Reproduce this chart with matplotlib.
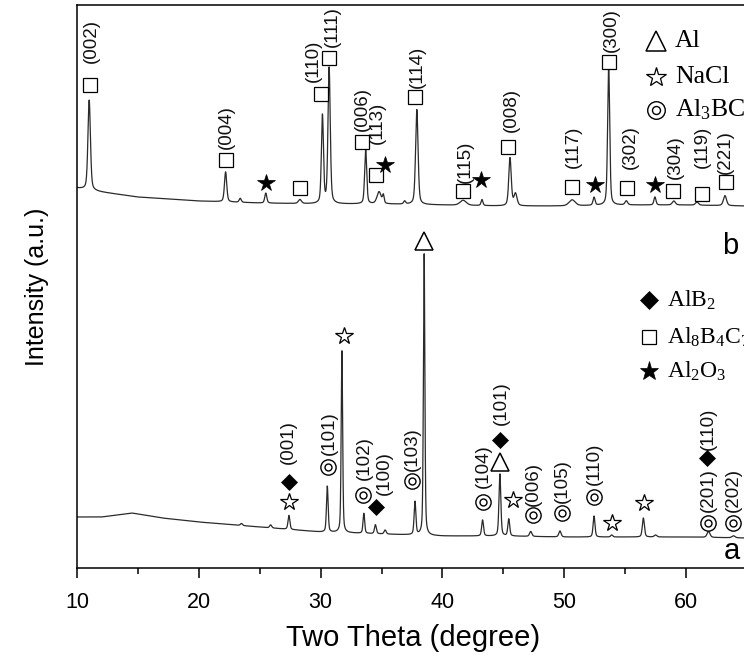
import numpy as np
import matplotlib
matplotlib.use("Agg")
import matplotlib.pyplot as plt

plt.rcParams['font.family'] = ['Liberation Sans', 'DejaVu Sans']
plt.rcParams['mathtext.fontset'] = 'custom'
plt.rcParams['mathtext.rm'] = 'Liberation Serif'

# ---- pattern a (bottom): baseline knots and peak list (2theta, height, fwhm)
base_a_tt = [10, 12, 14.5, 17, 20, 25, 30, 35, 40, 45, 50, 55, 60, 65, 70]
base_a_y = [51, 51, 55, 50, 46, 41, 36, 34, 32, 32, 31, 31, 31, 30, 30]
peaks_a_tt = [23.5, 25.9, 27.4, 30.55, 31.75, 33.55, 34.5, 35.3, 37.75, 38.5,
              43.3, 44.72, 45.45, 47.25, 49.65, 52.45, 53.9, 56.5, 57.5, 61.85, 63.9]
peaks_a_h = [2, 3, 14, 46, 182, 20, 9, 4, 33, 282,
             16, 62, 17, 5, 6, 21, 2, 19, 2, 6, 2]
peaks_a_w = [0.2, 0.2, 0.18, 0.16, 0.14, 0.16, 0.18, 0.2, 0.17, 0.14,
             0.18, 0.18, 0.18, 0.22, 0.22, 0.18, 0.2, 0.2, 0.25, 0.28, 0.3]

# ---- pattern b (top)
base_b_tt = [10, 12, 15, 20, 25, 30, 35, 40, 45, 50, 55, 60, 65, 70]
base_b_y = [380, 376, 371, 367, 365, 364, 364, 363, 362, 362, 363, 363, 362, 362]
peaks_b_tt = [11.0, 22.2, 23.4, 25.5, 28.3, 30.15, 30.7, 33.7, 34.8, 35.15, 36.9,
              37.9, 41.7, 43.25, 45.55, 46.0, 50.65, 52.45, 53.65, 55.1, 57.45,
              59.0, 60.9, 63.2]
peaks_b_h = [90, 30, 4, 10, 4, 88, 136, 54, 12, 8, 3,
             95, 5, 6, 48, 12, 6, 8, 140, 4, 8,
             4, 3, 10]
peaks_b_w = [0.24, 0.22, 0.2, 0.2, 0.3, 0.2, 0.22, 0.2, 0.4, 0.16, 0.2,
             0.24, 0.6, 0.18, 0.24, 0.3, 0.6, 0.2, 0.2, 0.25, 0.2,
             0.3, 0.3, 0.3]

# ---- phase markers: (2theta, level, phase)
marks_b = [(11.07, 483, 'B'), (22.23, 408, 'B'), (25.52, 385, 'O'), (28.31, 380, 'B'),
           (30.03, 474, 'B'), (30.69, 510, 'B'), (33.40, 426, 'B'), (34.55, 393, 'B'),
           (35.29, 403, 'O'), (37.75, 471, 'B'), (41.69, 377, 'B'), (43.17, 388, 'O'),
           (45.39, 421, 'B'), (50.64, 381, 'B'), (52.53, 383, 'O'), (53.68, 506, 'B'),
           (55.16, 380, 'B'), (57.45, 383, 'O'), (58.93, 377, 'B'), (61.31, 374, 'B'),
           (63.28, 386, 'B')]
labels_b = [(11.15, 527, '(002)'), (22.23, 441, '(004)'), (29.38, 507, '(110)'),
            (30.94, 541, '(111)'), (33.40, 459, '(006)'), (34.63, 445, '(113)'),
            (37.91, 501, '(114)'), (41.86, 406, '(115)'), (45.63, 458, '(008)'),
            (50.72, 421, '(117)'), (53.84, 538, '(300)'), (55.40, 421, '(302)'),
            (59.10, 411, '(304)'), (61.31, 421, '(119)'), (63.20, 416, '(221)')]

marks_a = [(38.53, 327, 'Al'), (31.9, 232, 'N'), (27.41, 86, 'D'), (27.41, 66, 'N'),
           (30.61, 101, 'C'), (33.48, 73, 'C'), (34.55, 61, 'D'), (37.5, 87, 'C'),
           (43.33, 66, 'C'), (44.73, 106, 'Al'), (44.73, 128, 'D'), (45.8, 68, 'N'),
           (47.44, 53, 'C'), (49.82, 55, 'C'), (52.45, 71, 'C'), (53.92, 45, 'N'),
           (56.55, 65, 'N'), (61.81, 45, 'C'), (61.72, 110, 'D'), (63.86, 45, 'C')]
labels_a = [(27.32, 126, '(001)'), (30.69, 135, '(101)'), (33.56, 110, '(102)'),
            (35.2, 95, '(100)'), (37.5, 119, '(103)'), (43.33, 102, '(104)'),
            (44.81, 165, '(101)'), (47.44, 84, '(006)'), (49.82, 87, '(105)'),
            (52.45, 104, '(110)'), (61.81, 78, '(201)'), (61.81, 139, '(110)'),
            (63.86, 78, '(202)')]

legend_top = [('Al', 'Al'), ('N', 'NaCl'), ('C', r'Al$\mathregular{_3}$BC')]
legend_top_y = [527, 491, 458]
legend_bot = [('D', r'AlB$\mathregular{_2}$'), ('B', r'Al$\mathregular{_8}$B$\mathregular{_4}$C$\mathregular{_7}$'),
              ('O', r'Al$\mathregular{_2}$O$\mathregular{_3}$')]
legend_bot_y = [268, 231, 197]


def pattern(tt, base_tt, base_y, ptt, ph, pw):
    y = np.interp(tt, base_tt, base_y).astype(float)
    for c, h, w in zip(ptt, ph, pw):
        g = np.exp(-4 * np.log(2) * ((tt - c) / w) ** 2)
        lor = 1.0 / (1 + 4 * ((tt - c) / w) ** 2)
        y += h * (0.6 * g + 0.4 * lor)
    return y


def draw_mark(ax, x, y, kind, scale=1.0):
    k = dict(color='black', zorder=5, clip_on=False)
    if kind == 'B':
        ax.plot(x, y, marker='s', ms=9.5 * scale, mfc='white', mec='black', mew=0.9, **k)
    elif kind == 'O':
        ax.plot(x, y, marker='*', ms=13 * scale, mfc='black', mec='black', mew=0.5, **k)
    elif kind == 'N':
        ax.plot(x, y, marker='*', ms=13 * scale, mfc='white', mec='black', mew=0.9, **k)
    elif kind == 'D':
        ax.plot(x, y, marker='D', ms=8 * scale, mfc='black', mec='black', mew=0.5, **k)
    elif kind == 'Al':
        ax.plot(x, y, marker='^', ms=13 * scale, mfc='white', mec='black', mew=1.1, **k)
    elif kind == 'C':
        ax.plot(x, y, marker='o', ms=11 * scale, mfc='white', mec='black', mew=1.0, **k)
        ax.plot(x, y, marker='o', ms=5 * scale, mfc='white', mec='black', mew=1.0, **k)


fig = plt.figure(figsize=(7.44, 6.66), dpi=100)
W, H = 744, 666
ax = fig.add_axes([77 / W, (H - 568) / H, 60 * 12.18 / W, (568 - 5) / H])

tt = np.linspace(10, 70, 8000)
ya = pattern(tt, base_a_tt, base_a_y, peaks_a_tt, peaks_a_h, peaks_a_w)
yb = pattern(tt, base_b_tt, base_b_y, peaks_b_tt, peaks_b_h, peaks_b_w)
ax.plot(tt, ya, color='#2a2a2a', lw=0.9)
ax.plot(tt, yb, color='#2a2a2a', lw=0.9)

for x, y, kind in marks_a + marks_b:
    draw_mark(ax, x, y, kind)
for x, y, s in labels_a + labels_b:
    ax.text(x, y, s, rotation=90, ha='center', va='center', fontsize=13.5, color='#111')

for (kind, name), y in zip(legend_top, legend_top_y):
    draw_mark(ax, 57.5, y, kind, 1.15)
    ax.text(59.1, y, name, ha='left', va='center', fontsize=18.5,
            family='Liberation Serif')
for (kind, name), y in zip(legend_bot, legend_bot_y):
    draw_mark(ax, 57.0, y, kind, 1.1)
    ax.text(58.4, y, name, ha='left', va='center', fontsize=17,
            family='Liberation Serif')

ax.text(63.78, 17, 'a', ha='center', va='center', fontsize=21)
ax.text(63.61, 322, 'b', ha='center', va='center', fontsize=21)

ax.set_xlim(10, 70)
ax.set_ylim(0, 563)
ax.set_xticks([10, 20, 30, 40, 50, 60])
ax.set_xticks([15, 25, 35, 45, 55], minor=True)
ax.set_yticks([])
ax.tick_params(axis='x', which='major', direction='out', length=7, width=1.1,
               labelsize=15.5, pad=10)
ax.tick_params(axis='x', which='minor', direction='out', length=4, width=1.1)
for sp in ax.spines.values():
    sp.set_linewidth(1.1)
ax.set_xlabel('Two Theta (degree)', fontsize=21)
ax.xaxis.set_label_coords((413 - 77) / (60 * 12.18), -0.1, transform=ax.transAxes)
ax.set_ylabel('Intensity (a.u.)', fontsize=18, labelpad=20)

fig.savefig('out.png', dpi=100)
